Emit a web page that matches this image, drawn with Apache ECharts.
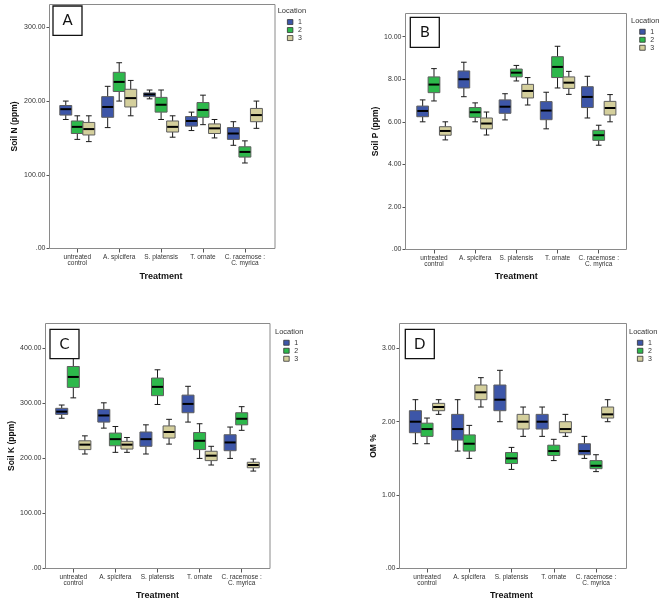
<!DOCTYPE html>
<html><head><meta charset="utf-8">
<script src="https://cdn.jsdelivr.net/npm/echarts@6/dist/echarts.min.js"></script>
<style>html,body{margin:0;padding:0;background:#fff}#c{width:669px;height:611px}</style>
</head><body><div id="c"></div>
<script>
// ---------- data ----------
const categories = ['untreated\ncontrol', 'A. spicifera', 'S. platensis', 'T. ornate', 'C. racemose :\nC. myrica'];
const locations = ['1', '2', '3'];
// each row: [min, Q1, median, Q3, max] per treatment
const soilN_loc1 = [[175,181,189,194,200],[164,178,192,206,220],[203,206,209,211,215],[160,166,173,179,185],[140,148,156,164,172]];
const soilN_loc2 = [[148,156,165,173,180],[200,213,226,239,252],[175,185,195,205,215],[168,178,188,198,208],[116,124,131,138,146]];
const soilN_loc3 = [[145,154,162,171,180],[180,192,204,216,228],[151,158,165,173,180],[150,156,163,169,175],[163,172,181,190,200]];

const soilP_loc1 = [[6.0,6.24,6.51,6.74,7.03],[7.18,7.59,8.0,8.39,8.8],[6.09,6.4,6.71,7.03,7.32],[5.67,6.1,6.53,6.95,7.39],[6.18,6.67,7.17,7.65,8.14]];
const soilP_loc2 = [[6.98,7.37,7.75,8.11,8.5],[6.0,6.21,6.45,6.67,6.89],[7.92,8.11,8.31,8.48,8.65],[7.59,8.08,8.58,9.06,9.55],[4.9,5.13,5.37,5.6,5.84]];
const soilP_loc3 = [[5.15,5.37,5.57,5.77,6.0],[5.38,5.67,5.92,6.18,6.46],[6.79,7.12,7.45,7.76,8.08],[7.29,7.57,7.84,8.11,8.37],[6.0,6.32,6.65,6.96,7.28]];

const soilK_loc1 = [[273,280,285,291,297],[255,266,278,289,301],[208,222,235,248,261],[266,283,299,315,331],[200,214,229,243,257]];
const soilK_loc2 = [[310,329,348,367,390],[211,223,235,246,258],[298,314,330,346,361],[200,216,232,247,263],[251,261,272,283,294]];
const soilK_loc3 = [[208,216,225,232,241],[211,217,225,231,238],[226,237,248,259,271],[188,196,205,213,222],[177,183,188,193,199]];

const om_loc1 = [[1.7,1.85,2.0,2.15,2.3],[1.6,1.75,1.9,2.1,2.3],[2.0,2.15,2.3,2.5,2.7],[1.8,1.9,2.0,2.1,2.2],[1.5,1.55,1.6,1.7,1.8]];
const om_loc2 = [[1.7,1.8,1.9,1.98,2.05],[1.5,1.6,1.7,1.82,1.95],[1.35,1.43,1.5,1.58,1.65],[1.47,1.54,1.6,1.68,1.76],[1.32,1.36,1.4,1.47,1.55]];
const om_loc3 = [[2.1,2.15,2.2,2.25,2.3],[2.2,2.3,2.4,2.5,2.6],[1.8,1.9,2.0,2.1,2.2],[1.8,1.85,1.9,2.0,2.1],[2.0,2.05,2.1,2.2,2.3]];

const ticksN = [0, 100, 200, 300];
const ticksP = [0, 2, 4, 6, 8, 10];
const ticksK = [0, 100, 200, 300, 400];
const ticksOM = [0, 1, 2, 3];

// ---------- layout ----------
const colors = ['#3D56A8', '#2DB84B', '#D4CF9C'];
const FONT = 'Liberation Sans';
const panels = [
  {letter:'A', title:'Soil N (ppm)', data:[soilN_loc1,soilN_loc2,soilN_loc3], ticks:ticksN, interval:100, max:331,
   frame:[49.5,4.5,225.5,244], gridLeft:56.35, gridWidth:209.5, yGap:30.5, xGap:23.5,
   box:[53,6,29,29.3], leg:{left:287, top:18.3}, locText:[277.7,11]},
  {letter:'B', title:'Soil P (ppm)', data:[soilP_loc1,soilP_loc2,soilP_loc3], ticks:ticksP, interval:2, max:11.09,
   frame:[405.5,13.5,221,236], gridLeft:413.4, gridWidth:205.9, yGap:23.8, xGap:22.7,
   box:[410.3,17.3,29,30], leg:{left:639.3, top:28}, locText:[631,20.7]},
  {letter:'C', title:'Soil K (ppm)', data:[soilK_loc1,soilK_loc2,soilK_loc3], ticks:ticksK, interval:100, max:445.1,
   frame:[45.5,323.5,224.5,245], gridLeft:52.25, gridWidth:210.5, yGap:29.8, xGap:23,
   box:[50,329.3,29,29.4], leg:{left:283.3, top:339}, locText:[275,331.7]},
  {letter:'D', title:'OM %', data:[om_loc1,om_loc2,om_loc3], ticks:ticksOM, interval:1, max:3.338,
   frame:[399.5,323.5,227,245], gridLeft:405.9, gridWidth:211.25, yGap:21.2, xGap:23,
   box:[405.3,329.3,29,29.4], leg:{left:637, top:339}, locText:[629,331.7]}
];

function makeRender(k) {
  return function (params, api) {
    const xi = api.value(0);
    const band = api.size([1, 0])[0];
    const c = api.coord([xi, api.value(3)]);
    const cx = c[0] + (k - 1) * 0.275 * band;
    const w = 0.285 * band, half = w / 2, capHalf = w * 0.24;
    const yMin = api.coord([xi, api.value(1)])[1];
    const yQ1 = api.coord([xi, api.value(2)])[1];
    const yMed = c[1];
    const yQ3 = api.coord([xi, api.value(4)])[1];
    const yMax = api.coord([xi, api.value(5)])[1];
    const ls = {stroke: '#1a1a1a', lineWidth: 1};
    return {type: 'group', children: [
      {type:'line', shape:{x1:cx, y1:yMax, x2:cx, y2:yQ3}, style:ls},
      {type:'line', shape:{x1:cx, y1:yQ1, x2:cx, y2:yMin}, style:ls},
      {type:'line', shape:{x1:cx-capHalf, y1:yMax, x2:cx+capHalf, y2:yMax}, style:ls},
      {type:'line', shape:{x1:cx-capHalf, y1:yMin, x2:cx+capHalf, y2:yMin}, style:ls},
      {type:'rect', shape:{x:cx-half, y:yQ3, width:w, height:yQ1-yQ3}, style:{fill:api.visual('color'), stroke:'#5e5e5e', lineWidth:1}},
      {type:'line', shape:{x1:cx-half+0.5, y1:yMed, x2:cx+half-0.5, y2:yMed}, style:{stroke:'#000', lineWidth:2}}
    ]};
  };
}

const grid = [], xAxis = [], yAxis = [], series = [], legend = [], graphic = [];
panels.forEach(function (p, pi) {
  const f = p.frame;
  grid.push({left: p.gridLeft, width: p.gridWidth, top: f[1], height: f[3], containLabel: false});
  xAxis.push({
    type: 'category', gridIndex: pi, data: categories, boundaryGap: true,
    axisLine: {show: false},
    axisTick: {show: true, alignWithLabel: true, length: 4, lineStyle: {color: '#555'}},
    axisLabel: {interval: 0, margin: 5, fontSize: 6.5, lineHeight: 6.8, color: '#333', fontFamily: FONT},
    name: 'Treatment', nameLocation: 'middle', nameGap: p.xGap,
    nameTextStyle: {fontSize: 9, fontWeight: 'bold', color: '#111', fontFamily: FONT},
    splitLine: {show: false}
  });
  yAxis.push({
    type: 'value', gridIndex: pi, min: 0, max: p.max, interval: p.interval,
    offset: p.gridLeft - f[0],
    axisLine: {show: false},
    axisTick: {show: true, length: 3, lineStyle: {color: '#555'}, customValues: p.ticks},
    axisLabel: {margin: 4, fontSize: 7, color: '#333', fontFamily: FONT, customValues: p.ticks,
      formatter: function (v) { return v === 0 ? '.00' : v.toFixed(2); }},
    splitLine: {show: false},
    name: p.title, nameLocation: 'middle', nameRotate: 90, nameGap: p.yGap,
    nameTextStyle: {fontSize: 8.5, fontWeight: 'bold', color: '#111', fontFamily: FONT}
  });
  p.data.forEach(function (arr, k) {
    series.push({
      type: 'custom', name: locations[k], xAxisIndex: pi, yAxisIndex: pi,
      itemStyle: {color: colors[k]},
      renderItem: makeRender(k),
      encode: {x: 0, y: [1, 2, 3, 4, 5]},
      data: arr.map(function (r, i) { return [i].concat(r); }),
      z: 3
    });
  });
  legend.push({
    data: locations, orient: 'vertical', left: p.leg.left, top: p.leg.top, padding: 0,
    itemWidth: 5.5, itemHeight: 5, itemGap: 0.5, selectedMode: false, icon: 'rect',
    itemStyle: {borderColor: '#333', borderWidth: 0.8},
    textStyle: {fontSize: 7, lineHeight: 7.5, color: '#333', fontFamily: FONT}
  });
  // frame
  graphic.push({type: 'rect', shape: {x: f[0], y: f[1], width: f[2], height: f[3]},
    style: {fill: 'none', stroke: '#8a8a8a', lineWidth: 1}, z: 1, silent: true});
  // panel letter box
  graphic.push({type: 'rect', shape: {x: p.box[0], y: p.box[1], width: p.box[2], height: p.box[3]},
    style: {fill: '#fff', stroke: '#111', lineWidth: 1.3}, z: 100, silent: true});
  graphic.push({type: 'text', x: p.box[0] + p.box[2] / 2, y: p.box[1] + p.box[3] / 2,
    style: {text: p.letter, fontSize: 15, fontFamily: 'Lato', fill: '#111', align: 'center', verticalAlign: 'middle'},
    z: 101, silent: true});
  // legend title
  graphic.push({type: 'text', x: p.locText[0], y: p.locText[1],
    style: {text: 'Location', fontSize: 7.5, fontFamily: FONT, fill: '#333', align: 'left', verticalAlign: 'middle'},
    z: 101, silent: true});
});

const chart = echarts.init(document.getElementById('c'), null, {renderer: 'canvas'});
chart.setOption({
  animation: false,
  backgroundColor: '#fff',
  color: colors,
  grid: grid, xAxis: xAxis, yAxis: yAxis, series: series, legend: legend, graphic: graphic
});
</script>
</body></html>
